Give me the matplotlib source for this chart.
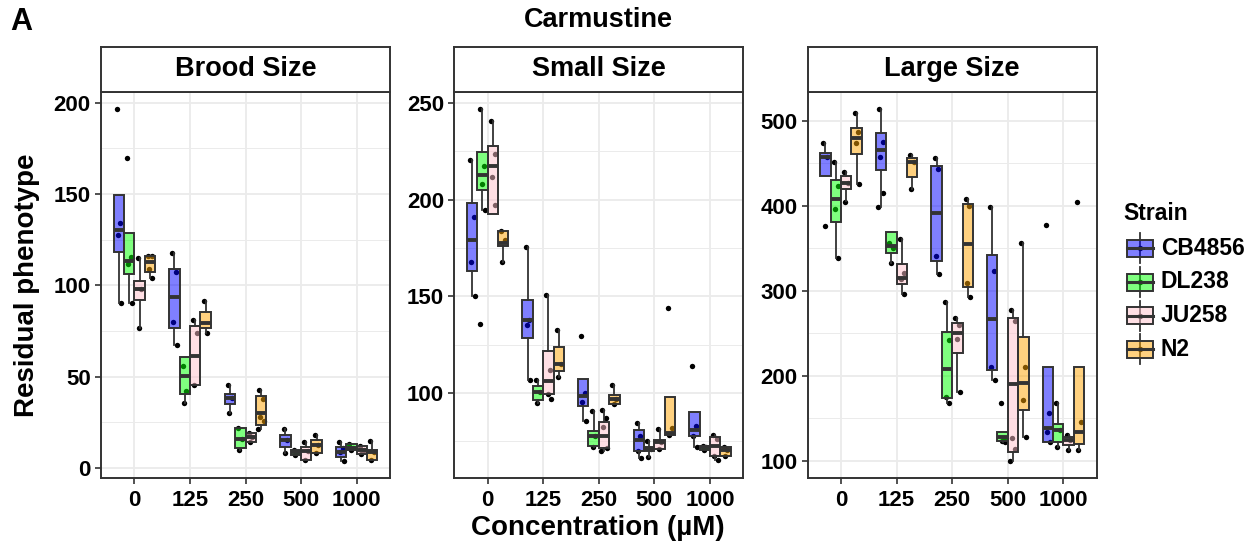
import numpy as np
import matplotlib
matplotlib.use("Agg")
import matplotlib.pyplot as plt
from matplotlib.patches import Rectangle

plt.rcParams['font.family'] = ['Liberation Sans', 'DejaVu Sans']
plt.rcParams['font.weight'] = 'bold'

# data
concentrations = ["0", "125", "250", "500", "1000"]
strains = ["CB4856", "DL238", "JU258", "N2"]
# ggplot fills drawn at alpha 0.5
strain_colors = [(0, 0, 1, 0.5), (0, 1, 0, 0.5), (1, 0.753, 0.796, 0.5), (1, 0.647, 0, 0.5)]
panel_titles = ["Brood Size", "Small Size", "Large Size"]

# box stats per strain, one (lo whisker, q1, median, q3, hi whisker) per concentration
brood_stats = {
    "CB4856": [(90.3, 118.1, 130.2, 149.6, 149.6), (67.6, 76.7, 93.6, 109.2, 117.8),
               (29.9, 35.3, 38.1, 40.3, 45.4), (8.2, 11.5, 15.2, 18.3, 21.6), (3.7, 6.0, 8.8, 11.5, 14.3)],
    "DL238": [(90.3, 106.2, 113.6, 128.8, 128.8), (35.7, 40.3, 50.4, 60.6, 60.6),
              (9.7, 11.2, 16.1, 22.0, 22.0), (7.3, 7.3, 8.8, 9.7, 9.7), (9.7, 9.7, 11.0, 13.0, 13.0)],
    "JU258": [(76.7, 91.8, 98.2, 102.6, 115.0), (45.2, 45.2, 61.4, 77.5, 81.1),
              (14.3, 14.3, 17.0, 19.4, 19.4), (4.6, 4.6, 9.3, 11.5, 14.3), (7.9, 7.9, 9.7, 11.9, 11.9)],
    "N2": [(104.0, 107.1, 112.6, 116.3, 116.3), (73.8, 76.4, 79.3, 85.7, 91.6),
           (21.6, 23.8, 29.9, 39.4, 42.7), (8.2, 8.2, 12.5, 15.6, 17.9), (4.2, 4.2, 8.8, 10.0, 14.7)],
}
brood_points = {
    "CB4856": [[196.7, 133.9, 127.5, 90.3], [117.8, 107.1, 80.2, 67.6], [45.4, 38.1, 29.9],
               [21.6, 15.2, 8.2], [14.3, 11.0, 8.8, 3.7]],
    "DL238": [[170.0, 115.4, 111.9, 90.3], [55.9, 42.1, 35.7], [22.0, 16.1, 9.7],
              [9.7, 8.8, 7.3], [13.0, 11.0, 9.7]],
    "JU258": [[115.0, 98.2, 76.7], [81.1, 73.8, 45.2], [19.4, 17.0, 14.3],
              [14.3, 9.3, 4.6], [11.9, 9.7, 7.9]],
    "N2": [[116.3, 116.3, 109.0, 104.0], [91.6, 73.8], [42.7, 37.7, 27.7, 25.8, 21.6],
           [17.9, 12.5, 8.2], [14.7, 8.8, 4.2]],
}

small_stats = {
    "CB4856": [(150.0, 162.9, 179.3, 198.3, 220.7), (106.9, 128.3, 137.6, 147.9, 175.3),
               (85.7, 93.4, 98.6, 107.2, 107.2), (66.4, 70.2, 75.9, 80.7, 84.5), (71.9, 77.6, 81.0, 90.0, 90.0)],
    "DL238": [(194.8, 204.8, 212.6, 224.7, 246.9), (94.8, 96.6, 100.3, 103.8, 106.9),
              (71.9, 72.8, 77.6, 80.2, 90.5), (66.7, 70.2, 71.0, 71.9, 75.3), (70.7, 70.7, 71.9, 72.8, 72.8)],
    "JU258": [(192.8, 192.8, 217.6, 227.6, 240.5), (99.7, 99.7, 106.4, 121.6, 150.5),
              (70.2, 71.6, 77.6, 84.8, 91.0), (71.0, 71.0, 74.5, 75.9, 81.4), (65.5, 67.6, 72.4, 77.1, 78.4)],
    "N2": [(167.6, 175.9, 177.6, 183.6, 183.6), (108.3, 111.6, 115.2, 123.8, 132.4),
           (94.3, 94.3, 97.1, 99.1, 104.0), (78.1, 78.1, 79.3, 98.0, 98.0), (67.6, 67.6, 70.7, 72.1, 72.1)],
}
small_points = {
    "CB4856": [[220.7, 190.9, 167.8, 150.0], [175.3, 137.6, 135.2, 106.9], [129.7, 100.0, 95.5, 85.7],
               [84.5, 78.0, 70.2, 66.4], [114.1, 82.8, 77.6, 71.9]],
    "DL238": [[246.9, 217.2, 208.1, 194.8, 135.5], [106.9, 100.3, 94.8], [90.5, 77.6, 71.9],
              [75.3, 71.0, 66.7], [72.8, 71.9, 70.7]],
    "JU258": [[240.5, 223.6, 211.9, 197.1], [150.5, 112.1, 99.7, 97.1], [91.0, 87.1, 82.4, 71.6, 70.2],
              [81.4, 74.5, 71.0], [78.4, 76.0, 67.6, 65.5]],
    "N2": [[183.6, 179.3, 167.6], [132.4, 115.2, 108.3], [104.0, 97.1, 94.3],
           [143.9, 81.9, 78.1], [72.1, 70.7, 67.6]],
}

large_stats = {
    "CB4856": [(435.6, 435.6, 458.0, 461.9, 473.7), (399.1, 442.3, 465.8, 485.5, 513.7),
               (319.8, 335.5, 392.0, 447.0, 456.0), (195.0, 206.8, 266.8, 342.2, 399.1),
               (122.4, 122.4, 138.9, 210.7, 210.7)],
    "DL238": [(338.3, 380.7, 407.8, 430.5, 452.1), (332.4, 344.9, 352.8, 369.7, 369.7),
              (168.3, 173.4, 207.6, 251.9, 287.2), (122.4, 123.6, 128.3, 134.2, 134.2),
              (116.5, 122.4, 136.1, 142.8, 167.5)],
    "JU258": [(405.8, 419.9, 427.4, 435.2, 440.3), (295.9, 307.7, 314.7, 331.6, 361.0),
              (181.3, 227.2, 250.7, 262.5, 267.6), (100.0, 110.6, 189.9, 267.6, 277.4),
              (112.6, 118.4, 124.3, 128.3, 130.2)],
    "N2": [(425.4, 461.1, 479.6, 492.1, 509.0), (419.5, 434.4, 452.1, 456.0, 460.0),
           (293.1, 304.9, 355.2, 402.3, 407.8), (128.3, 159.7, 191.1, 246.0, 356.7),
           (112.6, 119.2, 134.2, 210.7, 210.7)],
}
large_points = {
    "CB4856": [[473.7, 458.0, 376.3], [513.7, 475.7, 458.0, 414.8, 399.1], [456.0, 443.0, 341.4, 319.8],
               [399.1, 323.7, 209.9, 195.0], [377.9, 155.7, 134.2, 122.4]],
    "DL238": [[452.1, 423.5, 396.0, 338.3], [355.9, 350.0, 332.4], [287.2, 242.0, 175.0, 168.3],
              [167.5, 126.3, 123.6, 122.4], [167.5, 136.1, 116.5]],
    "JU258": [[440.3, 426.6, 405.0], [361.0, 321.4, 314.0, 295.9], [267.6, 259.8, 242.9, 181.3],
              [277.4, 264.9, 126.3, 113.3, 100.0], [130.2, 124.3, 112.6]],
    "N2": [[509.0, 486.7, 473.7, 425.4], [460.0, 452.1, 419.5], [407.8, 400.0, 308.8, 293.1],
           [356.7, 209.9, 171.4, 128.3], [404.2, 145.9, 112.6]],
}

panel_stats = [brood_stats, small_stats, large_stats]
panel_points = [brood_points, small_points, large_points]
panel_yticks = [[0, 50, 100, 150, 200], [100, 150, 200, 250], [100, 200, 300, 400, 500]]
panel_ylim = [(-5.3, 205.9), (56.2, 255.7), (80.0, 534.0)]

W, H = 1254, 548
fig = plt.figure(figsize=(W / 100, H / 100), dpi=100)


def rect(l, t, r, b):
    return [l / W, 1 - b / H, (r - l) / W, (b - t) / H]


edge = "#333333"
grid_c = "#EBEBEB"
bw = 0.1875
offsets = (np.arange(4) - 1.5) * bw
jit = [-0.035, 0.03, -0.015, 0.045, -0.05, 0.01]

lefts = [101, 454.3, 807.7]
for p in range(3):
    l = lefts[p]
    ax = fig.add_axes(rect(l, 92, l + 289, 477.7))
    sax = fig.add_axes(rect(l, 46.7, l + 289, 92))
    sax.set_xticks([])
    sax.set_yticks([])
    for s in sax.spines.values():
        s.set_color(edge)
        s.set_linewidth(1.4)
    sax.text(0.5, 0.5, panel_titles[p], ha='center', va='center', fontsize=19.5,
             fontweight='bold', transform=sax.transAxes)

    xs = np.arange(1, 6)
    for i, st in enumerate(strains):
        stats = []
        for k, (lo, q1, med, q3, hi) in enumerate(panel_stats[p][st]):
            stats.append(dict(whislo=lo, q1=q1, med=med, q3=q3, whishi=hi, fliers=[]))
        pos = xs + offsets[i]
        for k in range(5):
            pts = panel_points[p][st][k]
            px = [pos[k] + jit[j % len(jit)] for j in range(len(pts))]
            ax.scatter(px, pts, s=15, color='black', zorder=2, linewidths=0)
        ax.bxp(stats, positions=pos, widths=bw, patch_artist=True, showfliers=False,
               showcaps=False, manage_ticks=False,
               boxprops=dict(facecolor=strain_colors[i], edgecolor=edge, linewidth=1.4),
               medianprops=dict(color=edge, linewidth=2.8, solid_capstyle='butt'),
               whiskerprops=dict(color=edge, linewidth=1.3),
               zorder=3)

    ax.set_xticks(xs)
    ax.set_xticklabels(concentrations)
    yt = panel_yticks[p]
    ax.set_yticks(yt)
    step = yt[1] - yt[0]
    minor = [v + step / 2 for v in [yt[0] - step] + yt]
    ax.set_yticks(minor, minor=True)
    ax.set_xlim(0.4, 5.6)
    ax.set_ylim(*panel_ylim[p])
    ax.grid(True, which='major', color=grid_c, linewidth=1.3, zorder=0)
    ax.grid(True, which='minor', axis='y', color=grid_c, linewidth=0.7, zorder=0)
    ax.set_axisbelow(True)
    ax.tick_params(which='major', length=4, width=1.2, color=edge, labelsize=16,
                   labelcolor='black')
    ax.tick_params(axis='x', which='major', pad=4.5)
    ax.tick_params(axis='y', which='major', pad=3.5)
    ax.tick_params(which='minor', length=0)
    for lab in ax.get_xticklabels() + ax.get_yticklabels():
        lab.set_fontweight('bold')
    for s in ax.spines.values():
        s.set_color(edge)
        s.set_linewidth(1.4)

fig.text(598 / W, 1 - 20 / H, "Carmustine", ha='center', va='center', fontsize=19.5, fontweight='bold')
fig.text(10 / W, 1 - 22 / H, "A", ha='left', va='center', fontsize=22, fontweight='bold')
fig.text(598 / W, 1 - 528 / H, "Concentration (µM)", ha='center', va='center', fontsize=20,
         fontweight='bold')
fig.text(27 / W, 1 - 285 / H, "Residual phenotype", ha='center', va='center', rotation=90,
         fontsize=20, fontweight='bold')

# legend
lax = fig.add_axes([0, 0, 1, 1], facecolor='none')
lax.set_xlim(0, W)
lax.set_ylim(H, 0)
lax.axis('off')
lax.text(1123, 214, "Strain", ha='left', va='center', fontsize=16.5, fontweight='bold')
for i, st in enumerate(strains):
    yc = 248.3 + 33.7 * i
    lax.plot([1140, 1140], [yc - 15, yc + 15], color=edge, lw=1.3)
    lax.add_patch(Rectangle((1127, yc - 8.5), 26, 17, facecolor=strain_colors[i],
                            edgecolor=edge, lw=1.4, zorder=3))
    lax.plot([1127, 1153], [yc, yc], color=edge, lw=2.2, zorder=4)
    lax.scatter([1140], [yc], s=15, color='black', zorder=2, linewidths=0)
    lax.text(1161, yc, st, ha='left', va='center', fontsize=16.5, fontweight='bold')

fig.savefig("out.png", dpi=100)
